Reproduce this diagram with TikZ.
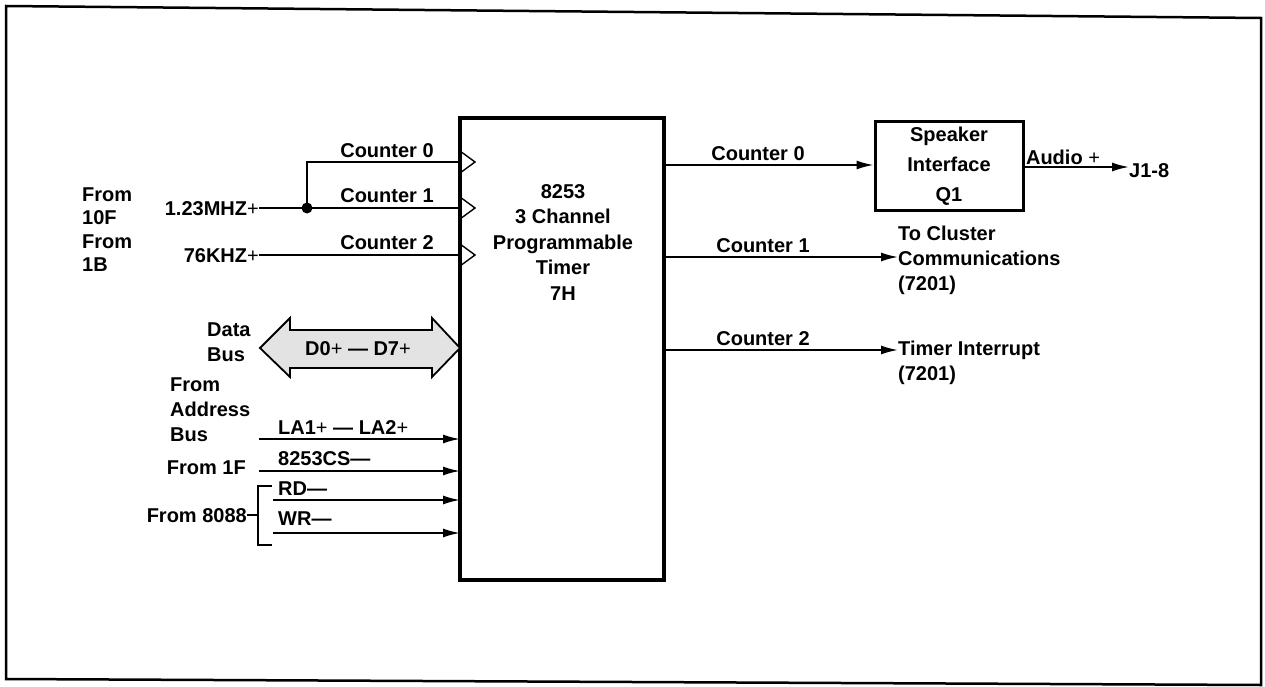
\documentclass[tikz,border=0pt]{standalone}
\usepackage{fontspec}
\setmainfont{Liberation Sans}
\usetikzlibrary{arrows.meta}
\newcommand\lblfont{\fontsize{20}{25}\selectfont\bfseries}
\newcommand\pl{{\mdseries+}}
\begin{document}
\begin{tikzpicture}[x=1pt,y=-1pt,
  lbl/.style={font=\lblfont, inner sep=0pt},
  wire/.style={line width=1.8pt},
  sig/.style={line width=1.8pt, -{Latex[length=17pt,width=9pt]}},
  clk/.style={line width=1.4pt},
  chipbox/.style={draw, line width=4pt, minimum width=204pt, minimum height=462pt, inner sep=0pt},
  spkbox/.style={draw, line width=3pt, minimum width=148pt, minimum height=88pt, inner sep=0pt, align=center, font=\fontsize{20}{30}\selectfont\bfseries}
]
\useasboundingbox (0,0) rectangle (1265,687);
% frame
\draw[line width=2.5pt] (6,6) -- (1261,18) -- (1261,685) -- (6,679) -- cycle;

% main chip
\node[chipbox] (chip) at (562,349) {};
\node[lbl, anchor=north, align=center, font=\fontsize{20}{25.5}\selectfont\bfseries] (chiptxt) at (563,184)
  {8253\\3 Channel\\Programmable\\Timer\\7H};

% clock inputs triangles
\coordinate (c0in) at (460,162);
\coordinate (c1in) at (460,208);
\coordinate (c2in) at (460,255);
\draw[clk] (460,151) -- (475,162) -- (460,173);
\draw[clk] (460,197) -- (475,208) -- (460,219);
\draw[clk] (460,244) -- (475,255) -- (460,266);

% left clock sources
\node[lbl, anchor=north west, align=left, font=\fontsize{20}{23.5}\selectfont\bfseries] (from10f) at (82,187.5)
  {From\\10F\\From\\1B};
\node[lbl, anchor=base east] (mhz) at (259,215.2) {1.23MHZ\pl};
\node[lbl, anchor=base east] (khz) at (259,262.2) {76KHZ\pl};
\coordinate (junc) at (307,208);
\coordinate (c0up) at (307,162);
\draw[wire] (mhz.east |- c1in) -- (c1in);
\draw[wire] (junc) -- (c0up) -- (c0in);
\draw[wire] (khz.east |- c2in) -- (c2in);
\fill (junc) circle (5.5pt);
\node[lbl, anchor=base] (lc0) at (387,157.2) {Counter 0};
\node[lbl, anchor=base] (lc1) at (387,202.2) {Counter 1};
\node[lbl, anchor=base] (lc2) at (387,249.2) {Counter 2};

% data bus
\node[lbl, anchor=north west, align=left] (datalbl) at (207,322.5) {Data\\Bus};
\draw[line width=1.8pt, fill=gray!22] (260,348) -- (290,318) -- (290,330) -- (432,330) -- (432,318) -- (460,348)
  -- (432,377) -- (432,368) -- (290,368) -- (290,377) -- cycle;
\node[lbl, anchor=base] (dbus) at (358,355.2) {D0\pl\ --- D7\pl};

% address and control
\node[lbl, anchor=north west, align=left] (addrlbl) at (170,377.5) {From\\Address\\Bus};
\coordinate (las) at (259,439);  \coordinate (lae) at (460,439);
\coordinate (css) at (259,471);  \coordinate (cse) at (460,471);
\coordinate (rds) at (273,500);  \coordinate (rde) at (460,500);
\coordinate (wrs) at (273,533);  \coordinate (wre) at (460,533);
\draw[sig] (las) -- (lae);
\draw[sig] (css) -- (cse);
\draw[sig] (rds) -- (rde);
\draw[sig] (wrs) -- (wre);
\node[lbl, anchor=base west] (lalbl) at (278,434.2) {LA1\pl\ --- LA2\pl};
\node[lbl, anchor=base west] (cslbl) at (278,465.2) {8253CS---};
\node[lbl, anchor=base east] (from1f) at (246,474.2) {From 1F};
\node[lbl, anchor=base west] (rdlbl) at (278,495.2) {RD---};
\node[lbl, anchor=base west] (wrlbl) at (278,525.2) {WR---};
\node[lbl, anchor=base east] (from8088) at (247,522.2) {From 8088};
\draw[wire] (272,486) -- (258,486) -- (258,545) -- (272,545);
\draw[wire] (from8088.east |- 0,515) -- (258,515);

% outputs
\node[spkbox] (spk) at (949,166) {Speaker\\Interface\\Q1};
\coordinate (o0) at (664,165);
\draw[sig] (o0) -- (spk.west |- o0);
\node[lbl, anchor=base] (ro0) at (758,160.2) {Counter 0};
\node[lbl, anchor=base] (audio) at (1063,164.2) {Audio \pl};
\node[lbl, anchor=base west] (j18) at (1129,177.2) {J1-8};
\coordinate (aud) at (1024,167);
\draw[sig] (aud) -- (j18.west |- aud);

\coordinate (o1) at (664,257);
\node[lbl, anchor=north west, align=left] (cluster) at (898,225.5) {To Cluster\\Communications\\(7201)};
\draw[sig] (o1) -- (cluster.west |- o1);
\node[lbl, anchor=base] (ro1) at (763,252.2) {Counter 1};

\coordinate (o2) at (664,350);
\node[lbl, anchor=north west, align=left] (tint) at (898,340.5) {Timer Interrupt\\(7201)};
\draw[sig] (o2) -- (tint.west |- o2);
\node[lbl, anchor=base] (ro2) at (763,345.2) {Counter 2};
\end{tikzpicture}
\end{document}
